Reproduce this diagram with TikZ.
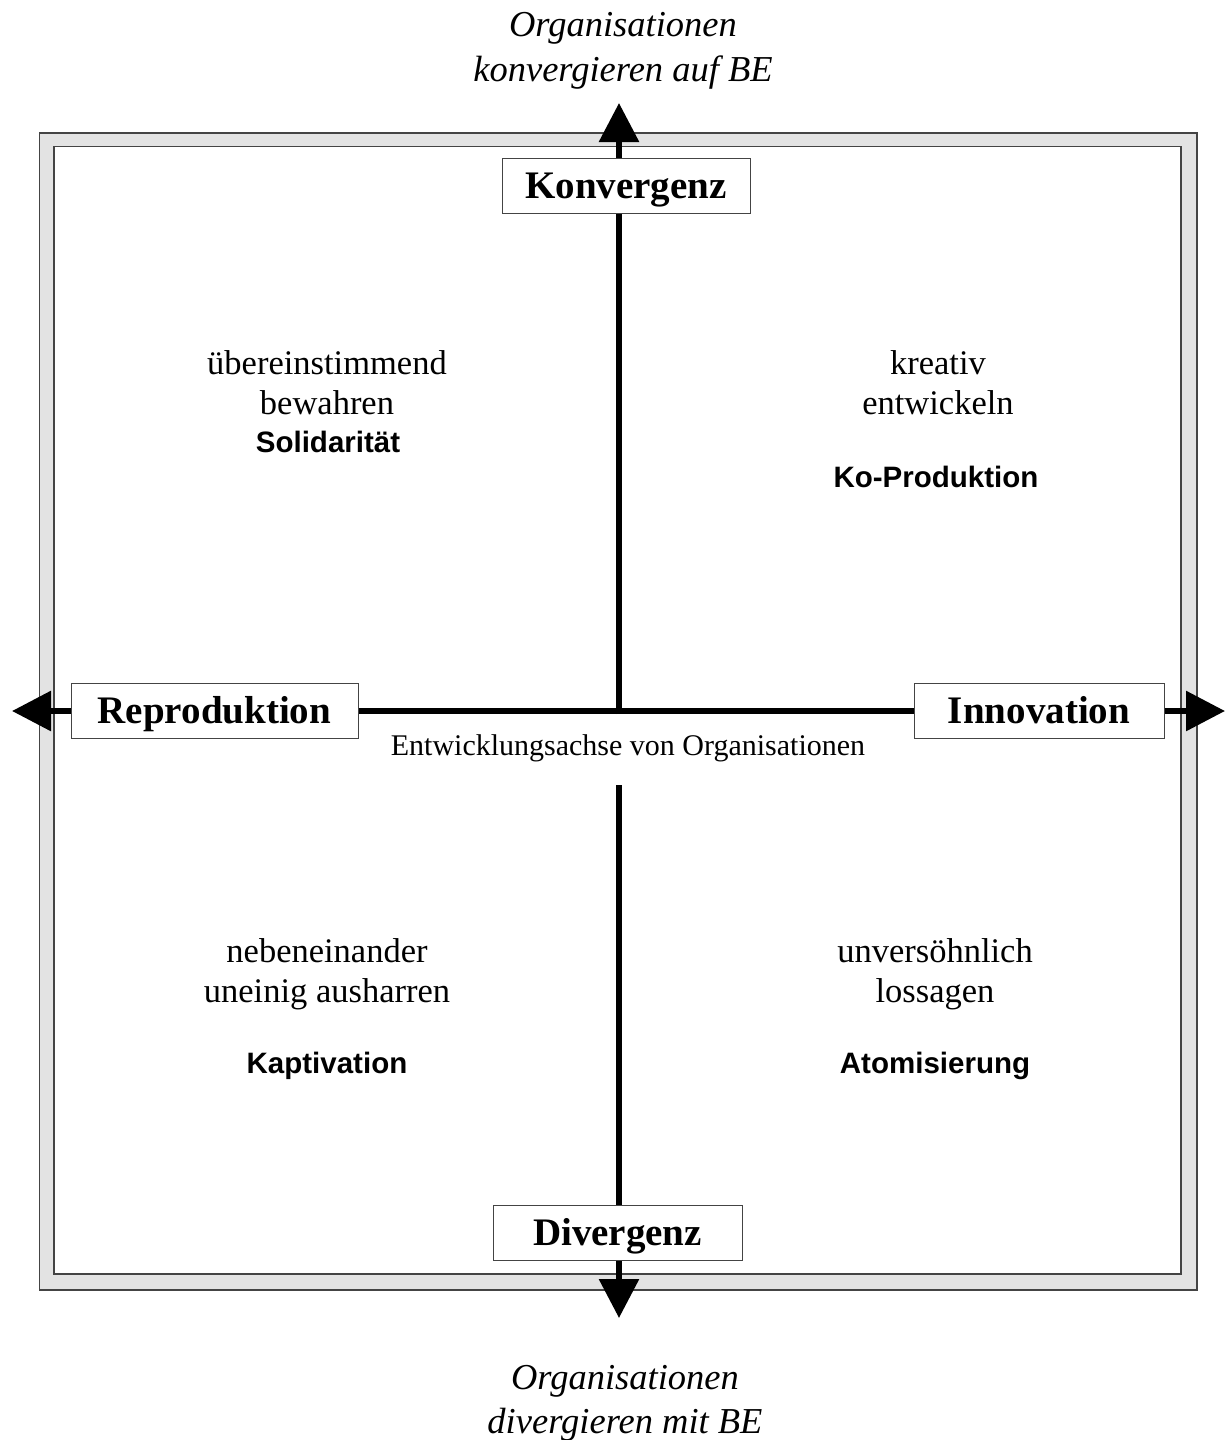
\documentclass[tikz,border=0pt]{standalone}
\usepackage{fontspec}
\setmainfont{Liberation Serif}
\newfontfamily\sansbold{Liberation Sans}[BoldFont={Liberation Sans Bold}]
\usetikzlibrary{arrows.meta}
\definecolor{framegray}{HTML}{E3E3E3}
\definecolor{edgegray}{HTML}{444444}
\begin{document}
\begin{tikzpicture}[x=1pt,y=-1pt,
  axis/.style={line width=6pt, black},
  axarrow/.style={axis, -{Triangle[length=39pt,width=39pt]}},
  boxlbl/.style={draw=edgegray, line width=1pt, fill=white, inner sep=0pt,
    font=\bfseries\fontsize{39}{39}\selectfont,
    minimum height=55pt, text height=25pt, text depth=0pt},
  qtext/.style={font=\fontsize{34.5}{34.5}\selectfont, anchor=base, inner sep=0pt},
  qterm/.style={font=\sansbold\bfseries\fontsize{29.5}{29.5}\selectfont, anchor=base, inner sep=0pt},
  ital/.style={font=\itshape\fontsize{36.5}{36.5}\selectfont, anchor=base, inner sep=0pt},
  axlabel/.style={font=\fontsize{30}{30}\selectfont, anchor=base, inner sep=0pt}]
\useasboundingbox (0,0) rectangle (1225,1440);
% frame
\filldraw[fill=framegray, draw=edgegray, line width=1.5pt] (39.5,133) rectangle (1197,1290);
\filldraw[fill=white, draw=edgegray, line width=1.5pt] (54,146.5) rectangle (1181,1274);
% boxes
\node[boxlbl, minimum width=248pt] (konv) at (626,185.5) {Konvergenz};
\node[boxlbl, minimum width=249pt] (div) at (617.5,1233) {Divergenz};
\node[boxlbl, minimum width=287pt] (repro) at (214.5,711) {Reproduktion};
\node[boxlbl, minimum width=250pt] (innov) at (1039,711) {Innovation};
% coordinates
\coordinate (ctr) at (619,714);
\coordinate (top) at (619,103);
\coordinate (bot) at (619,1318);
\coordinate (left) at (12,711);
\coordinate (right) at (1225,711);
\coordinate (lowstart) at (619,785);
% axes
\draw[axis] (ctr) -- (konv.south -| ctr);
\draw[axarrow] (konv.north -| ctr) -- (top);
\draw[axis] (lowstart) -- (div.north -| lowstart);
\draw[axarrow] (div.south -| lowstart) -- (bot);
\draw[axis] (repro.east) -- (innov.west);
\draw[axarrow] (repro.west) -- (left);
\draw[axarrow] (innov.east) -- (right);
% axis label
\node[axlabel] (achse) at (628,755) {Entwicklungsachse von Organisationen};
% outer texts
\node[ital] (t1) at (623,36) {Organisationen};
\node[ital] (t2) at (623,81) {konvergieren auf BE};
\node[ital] (b1) at (625,1389) {Organisationen};
\node[ital] (b2) at (625,1433) {divergieren mit BE};
% quadrants
\node[qtext] (q1a) at (327,374) {übereinstimmend};
\node[qtext] (q1b) at (327,414) {bewahren};
\node[qterm] (q1c) at (328,452) {Solidarität};
\node[qtext] (q2a) at (938,374) {kreativ};
\node[qtext] (q2b) at (938,414) {entwickeln};
\node[qterm] (q2c) at (936,487) {Ko-Produktion};
\node[qtext] (q3a) at (327,962) {nebeneinander};
\node[qtext] (q3b) at (327,1002) {uneinig ausharren};
\node[qterm] (q3c) at (327,1073) {Kaptivation};
\node[qtext] (q4a) at (935,962) {unversöhnlich};
\node[qtext] (q4b) at (935,1002) {lossagen};
\node[qterm] (q4c) at (935,1073) {Atomisierung};
\end{tikzpicture}
\end{document}
